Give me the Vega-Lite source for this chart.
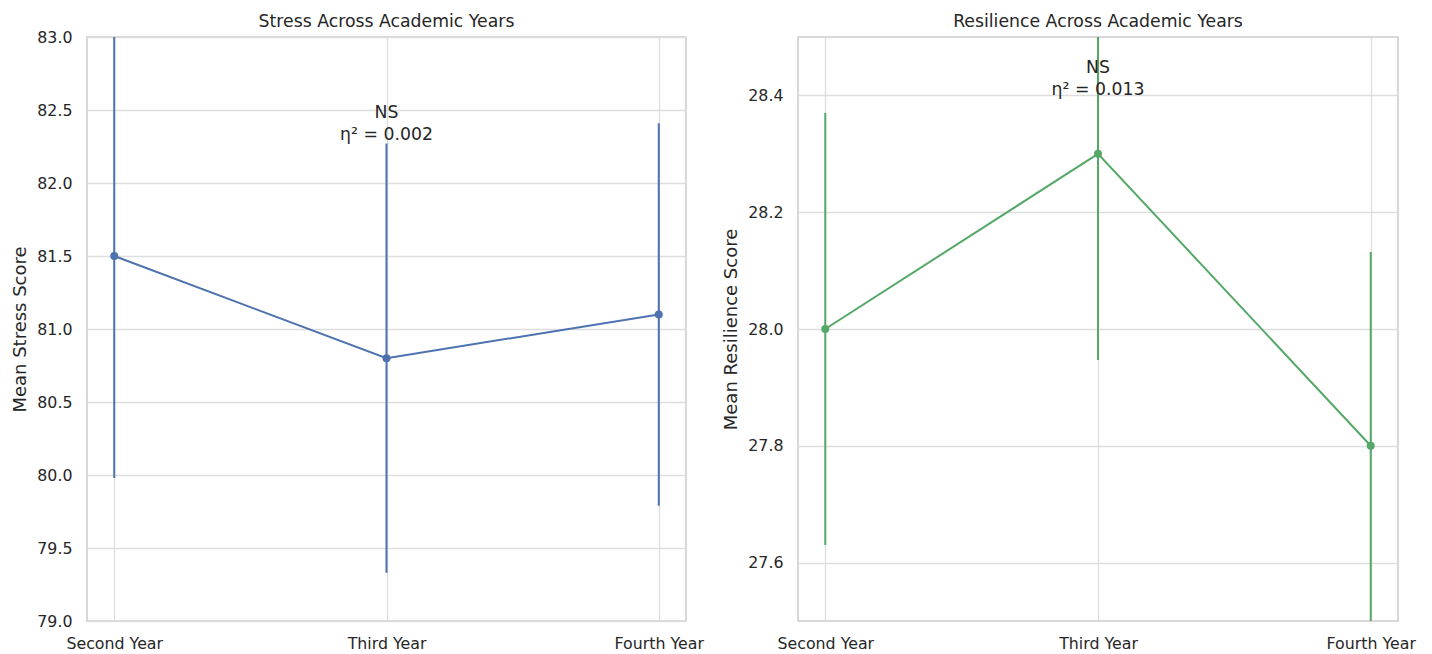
{
  "$schema": "https://vega.github.io/schema/vega-lite/v6.json",
  "background": "white",
  "padding": {"left": 11, "top": 11, "right": 5, "bottom": 0},
  "config": {
    "font": "DejaVu Sans",
    "view": {"stroke": "#cccccc", "strokeWidth": 1.5},
    "axis": {
      "labelFont": "DejaVu Sans", "labelFontSize": 15.8, "labelColor": "#262626",
      "titleFont": "DejaVu Sans", "titleFontSize": 18, "titleColor": "#262626", "titleFontWeight": "normal",
      "gridColor": "#dddddd", "gridWidth": 1.3, "domain": false, "ticks": false
    },
    "title": {"font": "DejaVu Sans", "fontSize": 17.3, "fontWeight": "normal", "color": "#262626", "offset": 7}
  },
  "spacing": 17,
  "hconcat": [
    {
      "width": 599, "height": 584,
      "title": {"text": "Stress Across Academic Years", "frame": "group", "offset": -1},
      "data": {"values": [
        {"year": "Second Year", "mean": 81.5, "lo": 79.98, "hi": 83.02},
        {"year": "Third Year", "mean": 80.8, "lo": 79.33, "hi": 82.27},
        {"year": "Fourth Year", "mean": 81.1, "lo": 79.79, "hi": 82.41}
      ]},
      "encoding": {
        "x": {"field": "year", "type": "ordinal", "sort": ["Second Year", "Third Year", "Fourth Year"],
              "scale": {"type": "point", "padding": 0.1},
              "axis": {"title": null, "labelAngle": 0, "labelPadding": 15, "grid": true}}
      },
      "layer": [
        {"mark": {"type": "rule", "color": "#4C72B0", "strokeWidth": 2, "clip": true},
         "encoding": {"y": {"field": "lo", "type": "quantitative"}, "y2": {"field": "hi"}}},
        {"mark": {"type": "line", "color": "#4C72B0", "strokeWidth": 2, "clip": true},
         "encoding": {"y": {"field": "mean", "type": "quantitative", "scale": {"domain": [79, 83], "nice": false, "zero": false},
                            "axis": {"title": "Mean Stress Score", "values": [79, 79.5, 80, 80.5, 81, 81.5, 82, 82.5, 83], "format": ".1f", "labelPadding": 15, "titlePadding": 7}}}},
        {"mark": {"type": "point", "filled": true, "color": "#4C72B0", "size": 64, "opacity": 1},
         "encoding": {"y": {"field": "mean", "type": "quantitative"}}},
        {"data": {"values": [{"year": "Third Year", "label": "NS\nη² = 0.002"}]},
         "mark": {"type": "text", "lineBreak": "\n", "baseline": "bottom", "align": "center", "fontSize": 17.3, "color": "#262626", "lineHeight": 22},
         "encoding": {"text": {"field": "label"}, "y": {"datum": 82.42}}}
      ]
    },
    {
      "width": 600, "height": 584,
      "title": {"text": "Resilience Across Academic Years", "frame": "group"},
      "data": {"values": [
        {"year": "Second Year", "mean": 28.0, "lo": 27.63, "hi": 28.37},
        {"year": "Third Year", "mean": 28.3, "lo": 27.947, "hi": 28.653},
        {"year": "Fourth Year", "mean": 27.8, "lo": 27.468, "hi": 28.132}
      ]},
      "encoding": {
        "x": {"field": "year", "type": "ordinal", "sort": ["Second Year", "Third Year", "Fourth Year"],
              "scale": {"type": "point", "padding": 0.1},
              "axis": {"title": null, "labelAngle": 0, "labelPadding": 15, "grid": true}}
      },
      "layer": [
        {"mark": {"type": "rule", "color": "#55A868", "strokeWidth": 2, "clip": true},
         "encoding": {"y": {"field": "lo", "type": "quantitative"}, "y2": {"field": "hi"}}},
        {"mark": {"type": "line", "color": "#55A868", "strokeWidth": 2, "clip": true},
         "encoding": {"y": {"field": "mean", "type": "quantitative", "scale": {"domain": [27.5, 28.5], "nice": false, "zero": false},
                            "axis": {"title": "Mean Resilience Score", "values": [27.6, 27.8, 28.0, 28.2, 28.4], "format": ".1f", "labelPadding": 15, "titlePadding": 7}}}},
        {"mark": {"type": "point", "filled": true, "color": "#55A868", "size": 64, "opacity": 1},
         "encoding": {"y": {"field": "mean", "type": "quantitative"}}},
        {"data": {"values": [{"year": "Third Year", "label": "NS\nη² = 0.013"}]},
         "mark": {"type": "text", "lineBreak": "\n", "baseline": "bottom", "align": "center", "fontSize": 17.3, "color": "#262626", "lineHeight": 22},
         "encoding": {"text": {"field": "label"}, "y": {"datum": 28.431}}}
      ]
    }
  ]
}
